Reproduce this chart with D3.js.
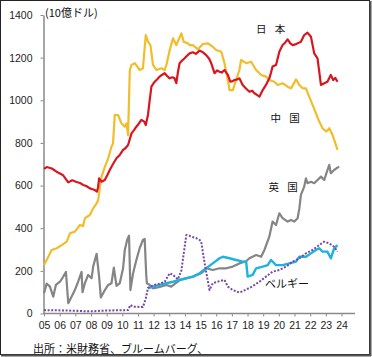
<!DOCTYPE html>
<html><head><meta charset="utf-8">
<script src="https://cdn.jsdelivr.net/npm/d3@7"></script>
<style>
html,body{margin:0;padding:0;background:#fff;}
svg{display:block;}
</style></head>
<body><svg id="c" width="372" height="357"></svg>
<script>
// ---- data (billion USD), time as decimal year ----
const yearTicks = ["05","06","07","08","09","10","11","12","13","14","15","16","17","18","19","20","21","22","23","24"];
const valueTicks = [0,200,400,600,800,1000,1200,1400];

const japanT = [2005.0,2005.17,2005.5,2005.8,2006.2,2006.55,2006.8,2007.08,2007.3,2007.5,2007.7,2007.93,2008.1,2008.25,2008.38,2008.45,2008.52,2008.67,2008.88,2009.05,2009.2,2009.4,2009.63,2009.85,2010.05,2010.2,2010.37,2010.59,2010.75,2010.9,2011.05,2011.22,2011.4,2011.5,2011.64,2011.75,2011.86,2012.07,2012.25,2012.39,2012.55,2012.71,2012.85,2013.03,2013.2,2013.34,2013.45,2013.55,2013.66,2013.8,2013.98,2014.15,2014.3,2014.5,2014.7,2014.94,2015.15,2015.36,2015.55,2015.68,2015.89,2016.05,2016.21,2016.35,2016.53,2016.74,2016.9,2017.05,2017.17,2017.35,2017.48,2017.69,2017.9,2018.12,2018.3,2018.44,2018.6,2018.76,2018.97,2019.18,2019.39,2019.5,2019.6,2019.82,2020.03,2020.24,2020.4,2020.56,2020.72,2020.88,2021.05,2021.2,2021.41,2021.62,2021.83,2022.05,2022.26,2022.47,2022.69,2022.9,2023.1,2023.32,2023.47,2023.6,2023.75];
const japanV = [678,687,680,665,650,615,625,617,612,603,598,587,583,579,572,590,634,618,626,650,673,700,728,745,767,775,790,845,860,876,890,908,900,884,931,1000,1064,1087,1100,1111,1120,1127,1115,1103,1108,1103,1080,1130,1174,1185,1197,1210,1220,1225,1218,1233,1225,1212,1195,1174,1127,1140,1134,1130,1142,1119,1087,1090,1095,1098,1103,1072,1055,1040,1045,1033,1025,1017,1048,1072,1103,1130,1158,1166,1228,1259,1270,1286,1268,1259,1262,1267,1275,1306,1317,1298,1220,1197,1072,1080,1087,1119,1095,1105,1087];

const chinaT = [2005.0,2005.17,2005.49,2005.81,2006.13,2006.45,2006.66,2006.97,2007.29,2007.5,2007.61,2007.93,2008.14,2008.36,2008.46,2008.57,2008.68,2008.89,2009.1,2009.31,2009.41,2009.52,2009.73,2009.95,2010.16,2010.27,2010.37,2010.48,2010.59,2010.8,2011.11,2011.32,2011.5,2011.64,2011.8,2011.96,2012.18,2012.5,2012.71,2012.82,2013.03,2013.24,2013.45,2013.77,2013.92,2014.19,2014.3,2014.51,2014.83,2015.15,2015.47,2015.78,2016.0,2016.32,2016.53,2016.74,2016.85,2017.06,2017.27,2017.48,2017.59,2017.91,2018.23,2018.55,2018.87,2019.18,2019.39,2019.71,2019.92,2020.24,2020.56,2020.78,2021.1,2021.31,2021.52,2021.73,2021.94,2022.2,2022.41,2022.58,2022.79,2023.04,2023.22,2023.43,2023.75];
const chinaV = [227,251,298,306,321,337,376,384,415,410,447,462,493,517,532,595,642,689,728,782,798,931,931,892,876,892,837,1142,1166,1174,1142,1150,1306,1275,1259,1166,1142,1150,1142,1166,1236,1291,1259,1314,1275,1267,1259,1259,1239,1264,1267,1251,1236,1228,1174,1095,1048,1048,1095,1142,1189,1174,1181,1142,1119,1111,1095,1087,1072,1080,1064,1056,1098,1072,1056,1056,1017,970,931,900,869,853,869,837,767];

const ukT = [2005.0,2005.17,2005.38,2005.59,2005.76,2006.02,2006.23,2006.4,2006.55,2006.76,2006.97,2007.18,2007.4,2007.46,2007.61,2007.82,2008.04,2008.14,2008.36,2008.52,2008.63,2008.89,2009.1,2009.31,2009.46,2009.63,2009.84,2010.05,2010.16,2010.31,2010.43,2010.52,2010.69,2010.9,2011.11,2011.32,2011.43,2011.53,2011.57,2011.75,2011.96,2012.39,2012.82,2013.13,2013.66,2014.04,2014.51,2014.94,2015.15,2015.36,2015.78,2016.21,2016.64,2017.06,2017.48,2017.91,2018.12,2018.55,2018.87,2019.08,2019.39,2019.6,2019.82,2020.03,2020.24,2020.56,2020.78,2020.99,2021.2,2021.31,2021.41,2021.62,2021.73,2021.83,2022.05,2022.26,2022.47,2022.69,2022.9,2023.04,2023.22,2023.32,2023.53,2023.68,2023.85];
const ukV = [95,140,126,79,134,149,173,195,48,79,110,149,195,100,142,181,165,220,280,173,75,110,134,142,215,130,142,212,298,345,365,110,189,251,306,345,350,181,142,134,118,125,134,126,157,165,173,185,195,212,204,212,212,220,235,245,259,274,266,298,360,431,415,470,447,431,439,431,447,493,556,595,634,611,618,611,626,642,626,658,697,658,673,681,689];

const cyanT = [2011.64,2011.96,2012.39,2012.82,2013.24,2013.66,2014.09,2014.51,2014.94,2015.36,2015.78,2016.21,2016.42,2016.85,2017.27,2017.69,2017.91,2018.01,2018.33,2018.55,2018.97,2019.29,2019.5,2019.82,2020.24,2020.67,2021.1,2021.31,2021.73,2022.05,2022.37,2022.58,2022.79,2023.1,2023.32,2023.53,2023.75];
const cyanV = [118,126,134,142,149,157,165,173,189,212,235,259,266,259,251,243,243,173,181,212,220,227,251,227,227,235,243,266,266,282,298,306,290,290,259,306,321];

const belgiumT = [2005.0,2006.45,2007.93,2009.0,2010.37,2010.52,2010.69,2011.32,2011.5,2011.64,2011.96,2012.39,2012.71,2013.03,2013.24,2013.55,2013.77,2014.09,2014.3,2014.73,2014.94,2015.04,2015.25,2015.47,2015.57,2015.78,2016.21,2016.53,2016.74,2017.06,2017.48,2017.91,2018.33,2018.76,2019.18,2019.6,2020.03,2020.46,2020.88,2021.31,2021.73,2022.15,2022.58,2022.9,2023.22,2023.53,2023.75];
const belgiumV = [16,14,10,14,16,40,32,30,70,120,132,140,149,189,181,160,200,368,364,353,345,337,240,150,110,142,152,157,126,110,98,112,128,149,173,196,204,220,243,259,282,298,321,337,329,313,290];

// ---- drawing ----
const svg = d3.select("#c");

// frame
svg.append("rect").attr("x",0.5).attr("y",0.5).attr("width",369).attr("height",354)
  .attr("fill","#fff").attr("stroke","#222").attr("stroke-width",1);
svg.append("line").attr("x1",1).attr("x2",371).attr("y1",355.5).attr("y2",355.5).attr("stroke","#555").attr("stroke-width",2);
svg.append("line").attr("x1",370.5).attr("x2",370.5).attr("y1",1).attr("y2",356).attr("stroke","#555").attr("stroke-width",2);

const x = d3.scaleLinear().domain([2005, 2024.8]).range([44, 354]);
const y = d3.scaleLinear().domain([0, 1400]).range([313.5, 15]);

const numFont = "'Liberation Sans', Arial, sans-serif";
const jpFont = "'Noto Sans CJK JP', sans-serif";

// y axis
const yAxis = d3.axisLeft(y).tickValues(valueTicks).tickSize(3).tickSizeOuter(0).tickPadding(8)
  .tickFormat(d3.format("d"));
const gy = svg.append("g").attr("transform","translate(43.5,0)").call(yAxis);
gy.select(".domain").attr("stroke","#8a8a8a").attr("stroke-width",1.5);
gy.selectAll(".tick line").attr("stroke","#8a8a8a");
gy.selectAll(".tick text").attr("font-family",numFont).attr("font-size","10.5px").attr("fill","#222");

// x axis
const xAxis = d3.axisBottom(x).tickValues(d3.range(2005, 2025)).tickSize(3).tickSizeOuter(0).tickPadding(5)
  .tickFormat((d,i) => yearTicks[i]);
const gx = svg.append("g").attr("transform","translate(0,313.5)").call(xAxis);
gx.select(".domain").attr("stroke","#8a8a8a").attr("stroke-width",1.5).attr("d","M43,0H355");
gx.selectAll(".tick line").attr("stroke","#8a8a8a");
gx.selectAll(".tick text").attr("font-family",numFont).attr("font-size","10.5px").attr("fill","#222");

// lines
const line = d3.line().x(d => x(d[0])).y(d => y(d[1]));
function series(T, V, color, width, dash) {
  const p = svg.append("path").datum(T.map((t,i)=>[t,V[i]]))
    .attr("d", line).attr("fill","none").attr("stroke",color).attr("stroke-width",width)
    .attr("stroke-linejoin","round");
  if (dash) p.attr("stroke-dasharray", dash);
}
series(ukT, ukV, "#858585", 2.2);
series(cyanT, cyanV, "#1fb1df", 2.4);
series(belgiumT, belgiumV, "#7448a8", 2, "2,1.6");
series(chinaT, chinaV, "#f2bd2a", 2.2);
series(japanT, japanV, "#d9161f", 2.2);

// texts
function label(txt, xx, yy, size, anchor, ws) {
  const t = svg.append("text").attr("x",xx).attr("y",yy).attr("font-family",jpFont)
    .attr("font-size",size).attr("fill","#111").attr("dominant-baseline","central")
    .attr("text-anchor",anchor||"start").text(txt);
  if (ws) t.style("word-spacing", ws + "px").style("white-space","pre");
  return t;
}
label("(10億ドル)", 45, 11.5, "11px");
label("日 本", 256, 28, "10.5px", "start", 6);
label("中 国", 270.5, 117.5, "10.5px", "start", 6);
label("英 国", 268.5, 186.5, "10.5px", "start", 6);
label("ベルギー", 265, 282.5, "11px");
label("出所：米財務省、ブルームバーグ、", 33, 347.5, "11px");
</script>
</body></html>
